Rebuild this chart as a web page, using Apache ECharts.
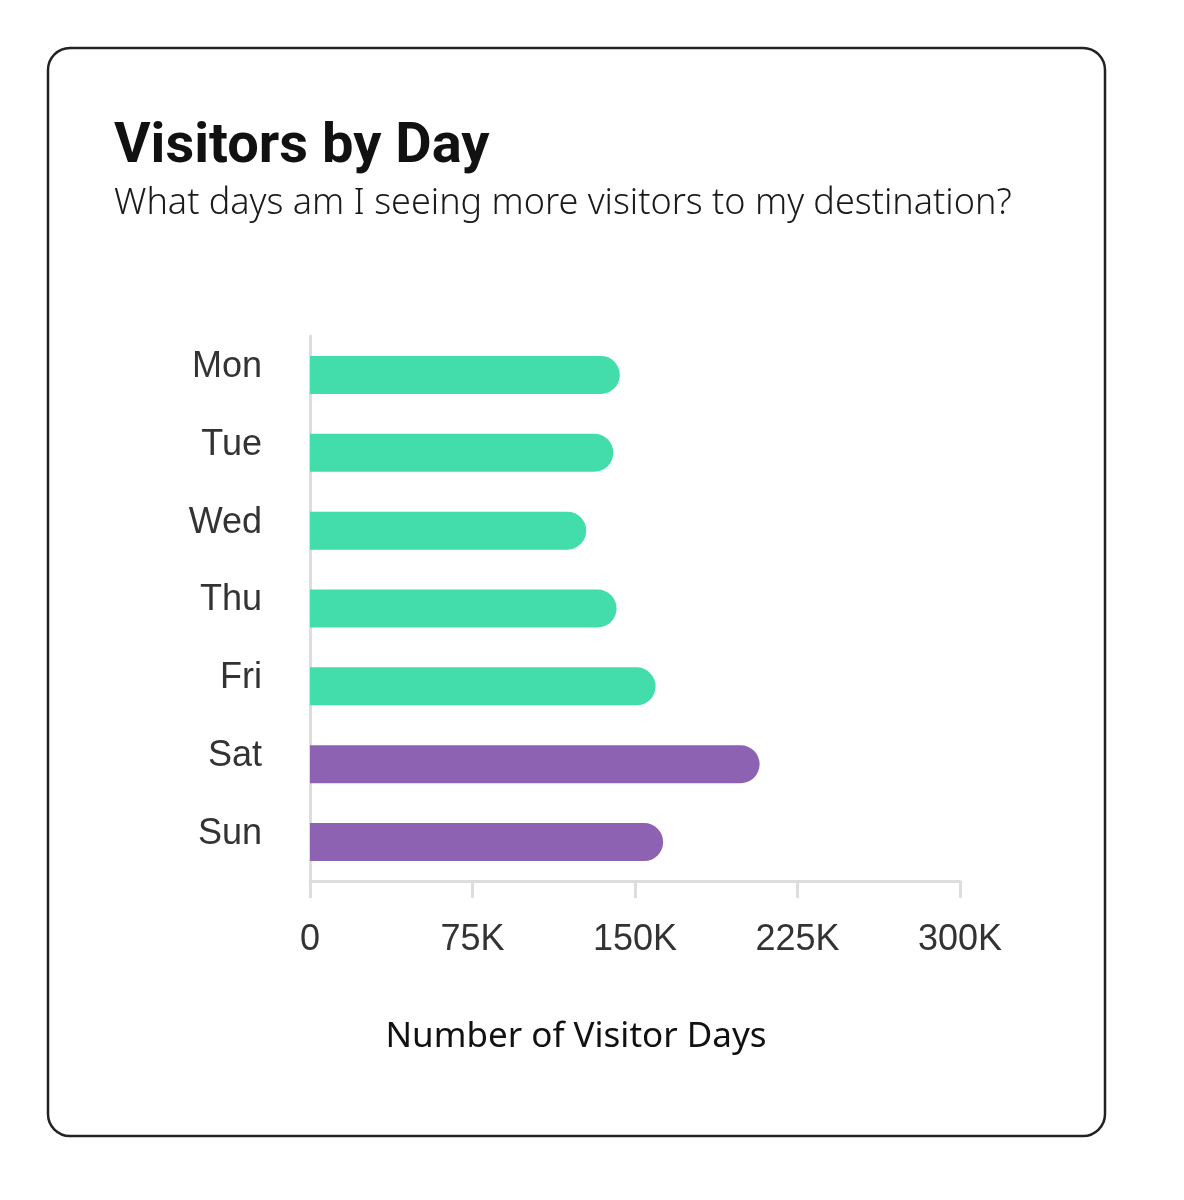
<!DOCTYPE html>
<html>
<head>
<meta charset="utf-8">
<style>
  html, body { margin: 0; padding: 0; background: #fff; }
  #main { width: 1184px; height: 1200px; }
</style>
</head>
<body>
<div id="main"></div>
<script src="https://cdn.jsdelivr.net/npm/echarts@6/dist/echarts.min.js"></script>
<script type="text/javascript">
    // data
    var days = ['Mon', 'Tue', 'Wed', 'Thu', 'Fri', 'Sat', 'Sun'];
    var visitorDays = [143000, 140000, 127500, 141500, 159500, 207500, 163000];
    var weekend = ['Sat', 'Sun'];
    var xTicks = [0, 75000, 150000, 225000, 300000];

    var green = '#43DDAC';
    var purple = '#8E62B2';

    var myChart = echarts.init(document.getElementById('main'));

    var barData = days.map(function (d, i) {
        return {
            value: visitorDays[i],
            itemStyle: { color: weekend.indexOf(d) >= 0 ? purple : green }
        };
    });

    var option = {
        backgroundColor: '#fff',
        animation: false,
        title: {
            text: 'Visitors by Day',
            subtext: 'What days am I seeing more visitors to my destination?',
            left: 109,
            top: 115,
            itemGap: 10,
            textStyle: {
                fontFamily: 'Roboto, sans-serif',
                fontWeight: 'bold',
                fontSize: 56,
                color: '#111'
            },
            subtextStyle: {
                fontFamily: '"Noto Sans", sans-serif',
                fontWeight: 300,
                fontSize: 36,
                color: '#1a1a1a'
            }
        },
        graphic: [{
            type: 'rect',
            shape: { x: 48, y: 48, width: 1057, height: 1088, r: 22 },
            style: { fill: 'none', stroke: '#222', lineWidth: 2.5 },
            silent: true
        }],
        grid: {
            left: 310,
            right: 224,
            top: 336,
            bottom: 319
        },
        xAxis: {
            type: 'value',
            min: 0,
            max: 300000,
            interval: 75000,
            name: 'Number of Visitor Days',
            nameLocation: 'middle',
            nameGap: 139,
            nameTextStyle: {
                fontFamily: '"Noto Sans", sans-serif',
                fontSize: 35,
                color: '#111',
                padding: [0, 118, 0, 0]
            },
            axisLine: { show: true, lineStyle: { color: '#dddddd', width: 3 } },
            axisTick: { show: true, length: 17, lineStyle: { color: '#dddddd', width: 3 } },
            splitLine: { show: false },
            axisLabel: {
                margin: 41,
                fontFamily: '"Liberation Sans", Arial, sans-serif',
                fontSize: 36,
                color: '#333',
                formatter: function (v) {
                    if (xTicks.indexOf(v) < 0) return '';
                    return v === 0 ? '0' : (v / 1000) + 'K';
                }
            }
        },
        yAxis: {
            type: 'category',
            data: days,
            inverse: true,
            axisLine: { show: true, lineStyle: { color: '#dddddd', width: 3 } },
            axisTick: { show: false },
            axisLabel: {
                margin: 48,
                fontFamily: '"Liberation Sans", Arial, sans-serif',
                fontSize: 36,
                color: '#333',
                verticalAlign: 'bottom',
                lineHeight: 16
            }
        },
        series: [{
            type: 'bar',
            data: barData,
            barWidth: 38,
            itemStyle: { borderRadius: [0, 19, 19, 0] }
        }]
    };

    myChart.setOption(option);
</script>
</body>
</html>
